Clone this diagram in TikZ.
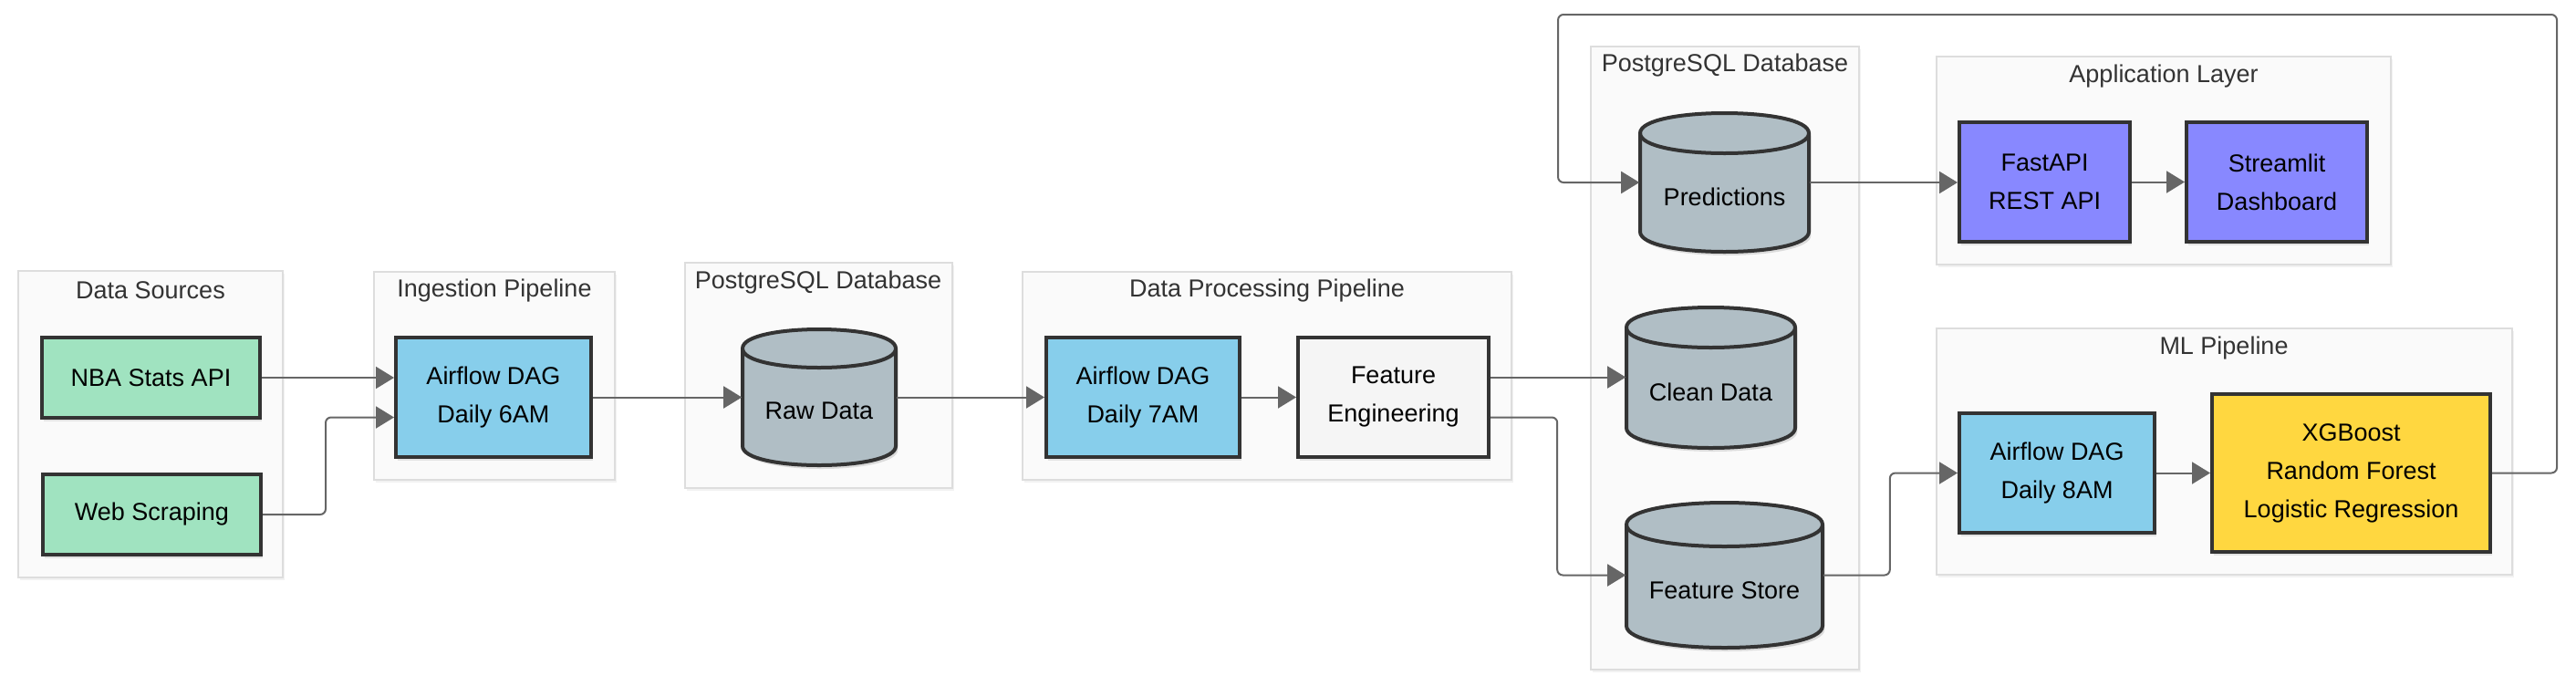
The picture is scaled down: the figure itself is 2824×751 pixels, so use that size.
\documentclass[tikz,border=0pt]{standalone}
\usepackage{fontspec}
\setmainfont{Liberation Sans}
\usetikzlibrary{arrows.meta,shadows,fit,calc}
\definecolor{bordc}{HTML}{333333}
\definecolor{connc}{HTML}{666666}
\definecolor{clfill}{HTML}{FAFAFA}
\definecolor{cldraw}{HTML}{DDDDDD}
\definecolor{srcgreen}{HTML}{A0E3C0}
\definecolor{dagblue}{HTML}{87CEEB}
\definecolor{apppurple}{HTML}{8888FF}
\definecolor{mlyellow}{HTML}{FFD740}
\definecolor{fegray}{HTML}{F5F5F5}
\definecolor{dbfill}{HTML}{B0BEC5}
\definecolor{titlec}{HTML}{333333}
\newcommand{\dbcyl}[7]{%
  \fill[black,opacity=0.12,xshift=0.6pt,yshift=-1pt] (#2,{#3+#6}) -- (#2,{#5-#6}) .. controls (#2,{#5+0.3333*#6}) and (#4,{#5+0.3333*#6}) .. (#4,{#5-#6}) -- (#4,{#3+#6}) .. controls (#4,{#3-0.3333*#6}) and (#2,{#3-0.3333*#6}) .. (#2,{#3+#6}) -- cycle;
  \filldraw[fill=dbfill,draw=bordc,line width=1pt] (#2,{#3+#6}) -- (#2,{#5-#6}) .. controls (#2,{#5+0.3333*#6}) and (#4,{#5+0.3333*#6}) .. (#4,{#5-#6}) -- (#4,{#3+#6}) .. controls (#4,{#3-0.3333*#6}) and (#2,{#3-0.3333*#6}) .. (#2,{#3+#6}) -- cycle;
  \draw[draw=bordc,line width=1pt] (#2,{#3+#6}) .. controls (#2,{#3+2.3333*#6}) and (#4,{#3+2.3333*#6}) .. (#4,{#3+#6});
  \node[fit={(#2,#3) (#4,#5)},inner sep=0pt] (#1) {};
  \node[txt] (#1text) at ({(#2+#4)/2},{(#3+#5)/2+0.7*#6}) {#7};
}
\begin{document}
\begin{tikzpicture}[x=0.25pt,y=-0.25pt,
  txt/.style={font=\fontsize{6.75pt}{10.5pt}\selectfont, align=center, text=black},
  box/.style={txt, draw=bordc, line width=1pt, inner sep=0pt, minimum height=32.75pt,
    drop shadow={shadow xshift=0.6pt, shadow yshift=-0.9pt, opacity=0.18}},
  cluster/.style={draw=cldraw, fill=clfill, line width=0.4pt, inner sep=0pt,
    drop shadow={shadow xshift=0.5pt, shadow yshift=-0.8pt, opacity=0.1}},
  ctitle/.style={txt, text=titlec},
  conn/.style={draw=connc, line width=0.5pt, rounded corners=1.5pt, -{Triangle[length=5pt,width=6pt]}}]
\fill[white] (0,0) rectangle (2824,751);
\useasboundingbox (0,0) rectangle (2824,751);

% clusters
\node[cluster, fit={(20,297) (310,633)}] (cds) {};
\node[ctitle] (tds) at (165,318) {Data Sources};
\node[cluster, fit={(410,298) (674,526)}] (cing) {};
\node[ctitle] (ting) at (542,319) {Ingestion Pipeline};
\node[cluster, fit={(751,288) (1044,535)}] (craw) {};
\node[ctitle] (traw) at (897,310) {PostgreSQL Database};
\node[cluster, fit={(1121,298) (1657,526)}] (cproc) {};
\node[ctitle] (tproc) at (1389,319) {Data Processing Pipeline};
\node[cluster, fit={(1744,51) (2038,734)}] (cpg) {};
\node[ctitle] (tpg) at (1891,72) {PostgreSQL Database};
\node[cluster, fit={(2123,62) (2621,290)}] (capp) {};
\node[ctitle] (tapp) at (2372,84) {Application Layer};
\node[cluster, fit={(2123,360) (2754,630)}] (cml) {};
\node[ctitle] (tml) at (2438,382) {ML Pipeline};

% boxes
\node[box, fill=srcgreen, minimum width=59.75pt, minimum height=22pt] (nba) at (165.5,414) {NBA Stats API};
\node[box, fill=srcgreen, minimum width=59.75pt, minimum height=22pt] (web) at (166.5,564) {Web Scraping};
\node[box, fill=dagblue, minimum width=53.5pt] (dag6) at (541,435.5) {Airflow DAG\\Daily 6AM};
\node[box, fill=dagblue, minimum width=53pt] (dag7) at (1253,435.5) {Airflow DAG\\Daily 7AM};
\node[box, fill=fegray, minimum width=52.25pt] (fe) at (1527.5,435.5) {Feature\\Engineering};
\node[box, fill=apppurple, minimum width=46.75pt] (fast) at (2241.5,199.5) {FastAPI\\REST API};
\node[box, fill=apppurple, minimum width=49.5pt] (stream) at (2496,199.5) {Streamlit\\Dashboard};
\node[box, fill=dagblue, minimum width=53.5pt] (dag8) at (2255,518.5) {Airflow DAG\\Daily 8AM};
\node[box, fill=mlyellow, minimum width=76.25pt, minimum height=43.25pt] (models) at (2577.5,518.5) {XGBoost\\Random Forest\\Logistic Regression};

% cylinders
\dbcyl{raw}{814}{361}{982}{510}{21}{Raw Data}
\dbcyl{pred}{1798}{124}{1983}{276}{22}{Predictions}
\dbcyl{clean}{1783}{337}{1968}{491}{22}{Clean Data}
\dbcyl{fs}{1783}{551}{1998}{710}{24}{Feature Store}

% connector ends
\coordinate (dag6lo) at ($(dag6.west)+(0,22)$);
\coordinate (feup) at ($(fe.east)+(0,-22)$);
\coordinate (fedn) at ($(fe.east)+(0,22)$);
\coordinate (webbend) at ($(dag6lo)+(-75,0)$);
\coordinate (febend) at ($(fs.west)+(-75,0)$);
\coordinate (fsbend) at ($(fs.east)+(73,0)$);
\coordinate (looptr) at (2803,16);
\coordinate (looptl) at (1708,16);

% connectors
\draw[conn] (nba.east) -- (nba.east -| dag6.west);
\draw[conn] (web.east) -| (webbend) -- (dag6lo);
\draw[conn] (dag6.east) -- (dag6.east -| raw.west);
\draw[conn] (raw.east) -- (raw.east -| dag7.west);
\draw[conn] (dag7.east) -- (fe.west);
\draw[conn] (feup) -- (feup -| clean.west);
\draw[conn] (fedn) -| (febend) -- (fs.west);
\draw[conn] (fs.east) -- (fsbend) |- (dag8.west);
\draw[conn] (dag8.east) -- (dag8.east -| models.west);
\draw[conn] (models.east) -| (looptr) -- (looptl) |- (pred.west);
\draw[conn] (pred.east) -- (pred.east -| fast.west);
\draw[conn] (fast.east) -- (stream.west);
\end{tikzpicture}
\end{document}
